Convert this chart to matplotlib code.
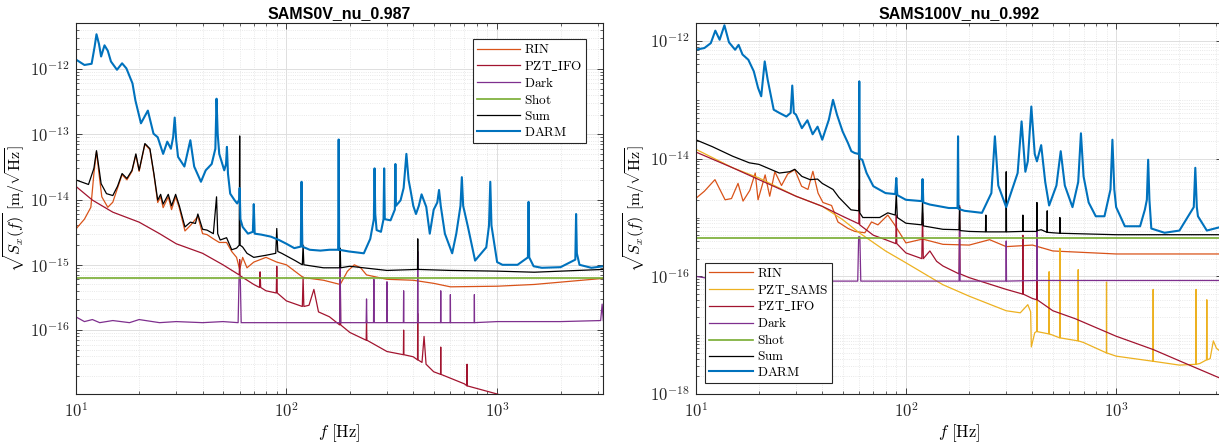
import numpy as np
import matplotlib
matplotlib.use('Agg')
import matplotlib.pyplot as plt
from matplotlib.ticker import LogLocator, FuncFormatter, NullFormatter

plt.rcParams['mathtext.fontset'] = 'cm'

#------------------------------------------#
# Spectra, (frequency [Hz], ASD [m/rtHz]) pairs
#------------------------------------------#
titles = ['SAMS0V_nu_0.987', 'SAMS100V_nu_0.992']

# ---- SAMS 0 V ----
L_RIN = [(10,3.5e-15),(11,5e-15),(11.8,7.6e-15),(12.2,2.5e-14),(12.55,5.4e-14),(12.9,2.5e-14),(13.3,1.1e-14),
         (14.2,7.6e-15),(15,9.1e-15),(15.8,1.5e-14),(16.6,2.4e-14),(17.5,2.0e-14),(18.5,2.7e-14),(19.3,4.8e-14),
         (20,2.7e-14),(21.3,7e-14),(22.5,5.8e-14),(23.5,2.4e-14),(24.5,9e-15),(25.3,1.1e-14),(26,7.5e-15),
         (27.5,1.1e-14),(28.5,7e-15),(29.8,1.1e-14),(31,7.5e-15),(33,3.3e-15),(35,4e-15),(38,5.5e-15),(40,3e-15),
         (42,2.9e-15),(45,2.5e-15),(48,2.2e-15),(52,2.2e-15),(55,1.6e-15),(58,1.3e-15),(60,0.85e-15),(62,1.3e-15),
         (65,0.9e-15),(70,1.1e-15),(80,1.3e-15),(90,1.1e-15),(100,1.0e-15),(120,0.64e-15),(150,0.58e-15),
         (180,0.5e-15),(195,0.8e-15),(210,1.0e-15),(225,0.9e-15),(240,0.7e-15),(300,0.6e-15),(400,0.58e-15),
         (500,0.52e-15),(600,0.46e-15),(1000,0.47e-15),(1500,0.5e-15),(3190,0.62e-15)]
L_PZT_IFO = [(10,1.6e-14),(12,9.8e-15),(15,6.4e-15),(20,4.5e-15),(25,3e-15),(30,2.1e-15),(40,1.5e-15),(50,1.0e-15),
             (59.7,0.7e-15),(60,1.2e-15),(60.3,0.68e-15),(70,0.5e-15),(74.5,0.45e-15),(75,7.8e-16),(75.5,0.45e-15),
             (80,0.4e-15),(89.5,0.37e-15),(90,9.5e-16),(90.5,0.37e-15),(100,0.28e-15),(119,0.23e-15),(120,6.5e-16),
             (121,0.23e-15),(128,0.24e-15),(135,4.2e-16),(142,1.9e-16),(160,1.6e-16),(179,1.2e-16),(180,8e-16),
             (181,1.2e-16),(200,9.2e-17),(239,7e-17),(240,1.4e-16),(241,7e-17),(300,4.7e-17),(359,4.2e-17),
             (360,1.0e-16),(361,4.2e-17),(400,3.9e-17),(419,3.5e-17),(420,1.8e-16),(421,3.5e-17),(440,3.2e-17),
             (450,8e-17),(460,3e-17),(500,2.3e-17),(539,2.1e-17),(540,5.5e-17),(541,2.1e-17),(700,1.5e-17),
             (719,1.4e-17),(720,3e-17),(721,1.4e-17),(1000,1.05e-17),(1300,8e-18)]
L_Dark = [(10,1.6e-16),(11,1.35e-16),(12,1.45e-16),(13,1.3e-16),(15,1.4e-16),(18,1.3e-16),(20,1.45e-16),(25,1.3e-16),
          (30,1.35e-16),(40,1.3e-16),(50,1.35e-16),(59,1.3e-16),(59.6,6.5e-16),(60.4,6.5e-16),(61,1.3e-16),
          (80,1.3e-16),(100,1.3e-16),(179,1.3e-16),(180,1.0e-15),(181,1.3e-16),(239,1.3e-16),(240,3e-16),
          (241,1.3e-16),(259,1.3e-16),(260,6e-16),(261,1.3e-16),(299,1.3e-16),(300,5.5e-16),(301,1.3e-16),
          (359,1.3e-16),(360,4e-16),(361,1.3e-16),(419,1.3e-16),(420,1.6e-15),(421,1.3e-16),(539,1.3e-16),
          (540,4e-16),(541,1.3e-16),(599,1.3e-16),(600,3.5e-16),(601,1.3e-16),(779,1.3e-16),(780,3.5e-16),
          (781,1.3e-16),(1000,1.35e-16),(2000,1.35e-16),(3100,1.4e-16),(3150,2.5e-16),(3190,1.4e-16)]
L_Shot = [(10,6.2e-16),(3190,6.2e-16)]
L_Sum = [(10,2.0e-14),(11.5,1.7e-14),(12.2,3e-14),(12.55,5.6e-14),(12.9,3e-14),(13.2,1.75e-14),(14,1.23e-14),
         (15,1.15e-14),(15.8,1.6e-14),(16.6,2.5e-14),(17.5,2.1e-14),(18.5,2.8e-14),(19.3,5e-14),(20,2.8e-14),
         (21.3,7.2e-14),(22.5,6e-14),(23.5,2.5e-14),(24.5,9.8e-15),(25.3,1.2e-14),(26,8.5e-15),(27.5,1.2e-14),
         (28.5,8e-15),(29.8,1.2e-14),(31,8.1e-15),(33,3.8e-15),(35,4.5e-15),(37,4.3e-15),(38,6e-15),(40,3.5e-15),
         (42,3.4e-15),(45,3e-15),(46.6,1.1e-14),(47.2,3e-15),(48.5,2.4e-15),(52,2.6e-15),(55,1.7e-15),(58,1.8e-15),
         (59.7,2e-15),(60,9.4e-14),(60.3,2e-15),(62,1.87e-15),(65,1.5e-15),(70,1.3e-15),(80,1.4e-15),(89,1.5e-15),
         (90,3.6e-15),(91,1.6e-15),(95,1.5e-15),(110,1.16e-15),(119,1.0e-15),(120,2e-15),(121,1e-15),(150,0.9e-15),
         (179,0.9e-15),(180,1.8e-15),(181,0.9e-15),(200,0.95e-15),(300,0.82e-15),(419,0.85e-15),(420,2.5e-15),
         (421,0.85e-15),(600,0.82e-15),(1000,0.8e-15),(1500,0.77e-15),(3190,0.85e-15)]
L_DARM = [(10,1.4e-12),(11,1.15e-12),(11.9,1.2e-12),(12.3,2.2e-12),(12.55,3.4e-12),(12.9,2.4e-12),(13.2,1.55e-12),
          (13.7,2.3e-12),(14.2,1.9e-12),(14.7,1.3e-12),(15.7,0.97e-12),(16.6,1.22e-12),(17.4,1.02e-12),(18.6,6.0e-13),
          (19.2,3.3e-13),(20.4,1.47e-13),(22.0,2.3e-13),(23.4,1.02e-13),(24.5,9e-14),(26.0,5.0e-14),(27.2,7.7e-14),
          (28.3,6.0e-14),(29.0,9e-14),(29.5,1.8e-13),(30.0,8e-14),(30.6,4.5e-14),(32.8,3.2e-14),(35.0,8.1e-14),
          (36.5,3.2e-14),(39.3,1.87e-14),(41.4,2.8e-14),(44.2,3.5e-14),(46.0,6e-14),(46.6,3.5e-13),(47.2,1e-13),
          (48.0,5e-14),(50.7,2.8e-14),(51.7,3.5e-14),(52.2,6.4e-14),(52.8,2.5e-14),(54.1,1.23e-14),(56.7,9.8e-15),
          (58.4,8.7e-15),(59.7,1e-14),(60.0,1.5e-14),(60.5,5e-15),(62.0,3.8e-15),(65.7,3.0e-15),(69.3,3.2e-15),
          (70.0,8.5e-15),(70.7,3.0e-15),(76,2.9e-15),(84.4,2.7e-15),(92.2,2.4e-15),(100,2.1e-15),(109,1.8e-15),
          (117,1.9e-15),(118,1.87e-14),(119,1.9e-15),(129,1.7e-15),(145,1.65e-15),(160,1.7e-15),(176,1.7e-15),
          (177,8.3e-14),(178,1.7e-15),(198,1.6e-15),(215,1.55e-15),(233,1.5e-15),(250,2.5e-15),(260,5e-15),
          (262,3.0e-14),(264,6e-15),(268,3.4e-15),(281,3.2e-15),(289,5e-15),(291,3.0e-14),(293,5e-15),(312,4.8e-15),
          (327,7e-15),(329,3.5e-14),(331,8e-15),(348,9.7e-15),(360,1.5e-14),(371,5e-14),(380,2e-14),(388,1.4e-14),
          (400,8e-15),(412,6e-15),(425,8e-15),(438,1.2e-14),(461,7.7e-15),(479,3e-15),(500,7e-15),(520,9e-15),
          (530,1.4e-14),(540,8e-15),(565,3e-15),(612,1.5e-15),(640,3e-15),(670,8e-15),(680,2.2e-14),(690,8e-15),
          (727,3.8e-15),(786,1.16e-15),(888,1.85e-15),(915,4e-15),(928,1.87e-14),(940,4e-15),(1000,1.1e-15),
          (1060,1.0e-15),(1250,1.0e-15),(1400,1.3e-15),(1410,9.2e-15),(1420,1.3e-15),(1490,0.95e-15),(1630,0.9e-15),
          (2000,0.92e-15),(2350,1.2e-15),(2370,6e-15),(2390,1.5e-15),(2460,1.0e-15),(2800,0.9e-15),(3190,0.95e-15)]

# ---- SAMS 100 V ----
R_RIN = [(10,2.1e-15),(11,2.8e-15),(12.35,4.4e-15),(13.8,2.0e-15),(14.8,2.1e-15),(15.9,3.8e-15),(16.8,1.9e-15),
         (18.1,2.9e-15),(19.2,5.7e-15),(19.8,2.0e-15),(21.4,5.3e-15),(22.5,2.3e-15),(23.8,6e-15),(25.6,3.5e-15),
         (27.4,5.5e-15),(29.6,6.5e-15),(31.9,3.4e-15),(34.2,3.0e-15),(36.1,6.1e-15),(38.2,2.6e-15),(40.3,1.8e-15),
         (44.3,1.6e-15),(47.5,8.4e-16),(53.1,6.5e-16),(57.2,5.8e-16),(63.8,5.5e-16),(68.6,8.4e-16),(73.6,7.5e-16),
         (82,1.1e-15),(88.4,7.5e-16),(100,0.37e-15),(120,0.43e-15),(150,0.35e-15),(200,0.34e-15),(250,0.42e-15),
         (300,0.32e-15),(400,0.34e-15),(500,0.27e-15),(1000,0.24e-15),(3190,0.24e-15)]
R_PZT_SAMS = [(10,1.45e-14),(15,7e-15),(20,4.7e-15),(30,2.3e-15),(40,1.55e-15),(50,0.92e-15),(60,0.55e-15),
              (80,0.27e-15),(100,0.17e-15),(150,7.2e-17),(200,4.6e-17),(300,2.6e-17),(350,2.4e-17),(380,3.3e-17),
              (392,2.5e-17),(395,6.3e-18),(410,1.1e-17),(419,1.16e-17),(420,1.7e-16),(421,1.15e-17),(479,1.05e-17),
              (480,1.2e-16),(481,1.05e-17),(500,1e-17),(539,9e-18),(540,3e-16),(541,9e-18),(659,8e-18),(660,1.3e-16),
              (661,8e-18),(700,7.5e-18),(899,5e-18),(900,8e-17),(901,5e-18),(1000,4.4e-18),(1499,3.6e-18),
              (1500,6e-17),(1501,3.6e-18),(2000,3.1e-18),(2399,3.2e-18),(2400,6e-17),(2401,3.2e-18),(2500,3.3e-18),
              (2690,3.8e-18),(2700,4e-17),(2710,3.8e-18),(2800,4e-18),(2900,8e-18),(3000,6e-18),(3190,5e-18)]
R_PZT_IFO = [(10,1.3e-14),(15,7e-15),(20,4.4e-15),(30,2.3e-15),(40,1.55e-15),(50,1.05e-15),(59.7,0.78e-15),
             (60,3e-15),(60.3,0.75e-15),(70,0.5e-15),(80,0.42e-15),(89.5,0.36e-15),(90,1.1e-15),(90.5,0.36e-15),
             (100,0.25e-15),(119,0.2e-15),(120,1.2e-15),(121,0.2e-15),(130,0.27e-15),(140,0.18e-15),(150,0.15e-15),
             (179,0.11e-15),(180,1.6e-15),(181,0.11e-15),(200,9.5e-17),(300,6e-17),(359,5e-17),(360,5e-16),
             (361,5e-17),(400,4.2e-17),(419,4e-17),(420,7e-16),(421,4e-17),(500,2.6e-17),(640,1.9e-17),
             (1000,9.6e-18),(1500,5.7e-18),(2100,3.4e-18),(3190,1.8e-18)]
R_Dark = [(10,1.0e-16),(12,9e-17),(15,8.5e-17),(20,8.5e-17),(30,8.3e-17),(59,8.3e-17),(59.6,4.7e-16),(60.4,4.7e-16),
          (61,8.3e-17),(100,8.3e-17),(179,8.3e-17),(180,6e-16),(181,8.3e-17),(299,8.3e-17),(300,4e-16),(301,8.3e-17),
          (419,8.5e-17),(420,6e-16),(421,8.5e-17),(1000,8.5e-17),(3190,8.5e-17)]
R_Shot = [(10,4.4e-16),(3190,4.4e-16)]
R_Sum = [(10,2.1e-14),(12,1.6e-14),(15,1.1e-14),(18,8.5e-15),(20,8e-15),(25,5.7e-15),(28,6e-15),(29.6,6.6e-15),
         (32,5e-15),(35,4.4e-15),(38,4.5e-15),(40,3.8e-15),(45,3e-15),(48,2.2e-15),(54.8,1.35e-15),(59.7,1.3e-15),
         (60,2.06e-13),(60.3,1.2e-15),(62.4,1.0e-15),(75,1.0e-15),(82,1.2e-15),(89,1.1e-15),
         (90,2.6e-15),(91,1.0e-15),(100,0.8e-15),(119,0.75e-15),(120,2e-15),(121,0.72e-15),(150,0.63e-15),
         (179,0.62e-15),(180,1.5e-15),(181,0.6e-15),(200,0.58e-15),(239,0.57e-15),(240,1.1e-15),(241,0.57e-15),
         (299,0.57e-15),(300,6e-15),(301,0.57e-15),(359,0.58e-15),(360,1.1e-15),(361,0.58e-15),(419,0.58e-15),
         (420,1.8e-15),(421,0.6e-15),(440,0.62e-15),(469,0.56e-15),(470,1.3e-15),(471,0.56e-15),(500,0.55e-15),
         (539,0.54e-15),(540,1.0e-15),(541,0.54e-15),(1000,0.51e-15),(3190,0.51e-15)]
R_DARM = [(10,7.1e-13),(11,7.6e-13),(11.8,9.2e-13),(12.4,1.5e-12),(13.0,1.05e-12),(13.7,1.85e-12),(14.4,9.5e-13),
          (15.4,7.1e-13),(16.0,8.6e-13),(16.7,5.9e-13),(17.8,4.8e-13),(18.9,3.05e-13),(19.8,1.6e-13),(20.5,1.15e-13),
          (21.3,4.5e-13),(22.0,2.2e-13),(23.5,6.8e-14),(25,6e-14),(27,5.2e-14),(28.3,6e-14),(28.8,1.75e-13),
          (29.3,6e-14),(30,5.6e-14),(32,3.3e-14),(34,4.5e-14),(36,2.6e-14),(38,3.5e-14),(40,2.1e-14),(43,4.6e-14),
          (45,1.0e-13),(47,5.6e-14),(50,2.9e-14),(53,1.85e-14),(55,1.34e-14),(57,1.25e-14),(59.7,1.2e-14),
          (60,2.06e-13),(60.3,1e-14),(62,9.6e-15),(65,5.7e-15),(70,3.4e-15),(80,2.6e-15),(89,2.5e-15),(90,4.7e-15),
          (91,2.4e-15),(100,2.0e-15),(119,1.9e-15),(120,4.5e-15),(121,1.8e-15),(130,1.66e-15),(160,1.45e-15),
          (176,1.45e-15),(177,2.4e-14),(178,1.4e-15),(190,1.3e-15),(230,1.2e-15),(255,2.6e-15),(265,2.4e-14),
          (275,3.5e-15),(300,1.5e-15),(340,5.7e-15),(355,4.3e-14),(370,6e-15),(380,9e-15),(395,7.7e-14),
          (410,1.2e-14),(420,9e-15),(440,1.7e-14),(460,4e-15),(480,1.6e-15),(520,3.5e-15),(545,1.34e-14),
          (570,3.5e-15),(620,1.5e-15),(660,4e-15),(680,2.7e-14),(700,5e-15),(740,1.8e-15),(800,1.05e-15),
          (880,1.05e-15),(940,3e-15),(960,2.1e-14),(980,3e-15),(1000,1.5e-15),(1100,0.71e-15),(1300,0.71e-15),
          (1370,1.36e-15),(1400,2e-15),(1420,9.6e-15),(1440,2e-15),(1470,0.65e-15),(1700,0.55e-15),(2000,0.6e-15),
          (2340,1.5e-15),(2380,7e-15),(2420,1.5e-15),(2450,1.05e-15),(2700,0.6e-15),(3190,0.7e-15)]

# MATLAB default colours
c_rin = '#D95319'
c_sams = '#EDB120'
c_ifo = '#A2142F'
c_dark = '#7E2F8E'
c_shot = '#77AC30'
c_sum = 'k'
c_darm = '#0072BD'

left_traces = [(L_RIN, c_rin, r'$\mathrm{RIN}$', 0.9),
               (L_PZT_IFO, c_ifo, r'$\mathrm{PZT\_IFO}$', 0.9),
               (L_Dark, c_dark, r'$\mathrm{Dark}$', 0.9),
               (L_Shot, c_shot, r'$\mathrm{Shot}$', 1.2),
               (L_Sum, c_sum, r'$\mathrm{Sum}$', 0.9),
               (L_DARM, c_darm, r'$\mathrm{DARM}$', 1.5)]
right_traces = [(R_RIN, c_rin, r'$\mathrm{RIN}$', 0.9),
                (R_PZT_SAMS, c_sams, r'$\mathrm{PZT\_SAMS}$', 0.9),
                (R_PZT_IFO, c_ifo, r'$\mathrm{PZT\_IFO}$', 0.9),
                (R_Dark, c_dark, r'$\mathrm{Dark}$', 0.9),
                (R_Shot, c_shot, r'$\mathrm{Shot}$', 1.2),
                (R_Sum, c_sum, r'$\mathrm{Sum}$', 0.9),
                (R_DARM, c_darm, r'$\mathrm{DARM}$', 1.5)]

#------------------------------------------#
def decade_label(v, pos):
    return r'$10^{%d}$' % int(round(np.log10(v)))

def style_axes(ax, title, ymajor):
    ax.set_xscale('log')
    ax.set_yscale('log')
    ax.xaxis.set_major_locator(LogLocator(base=10))
    ax.xaxis.set_minor_locator(LogLocator(base=10, subs=np.arange(2, 10)))
    ax.yaxis.set_major_locator(plt.FixedLocator(ymajor))
    ax.yaxis.set_minor_locator(LogLocator(base=10, subs=np.arange(1, 10), numticks=30))
    ax.xaxis.set_major_formatter(FuncFormatter(decade_label))
    ax.yaxis.set_major_formatter(FuncFormatter(decade_label))
    ax.xaxis.set_minor_formatter(NullFormatter())
    ax.yaxis.set_minor_formatter(NullFormatter())
    ax.tick_params(which='both', direction='in', top=True, right=True, labelsize=12, colors='#262626')
    ax.tick_params(which='major', length=4, width=0.6)
    ax.tick_params(which='minor', length=2.2, width=0.5)
    ax.tick_params(axis='x', which='major', pad=6)
    ax.tick_params(axis='y', which='major', pad=4.5)
    ax.grid(True, which='major', color='#dedede', lw=0.7)
    ax.grid(True, which='minor', color='#e2e2e2', lw=0.6, ls=':')
    ax.set_axisbelow(True)
    for s in ax.spines.values():
        s.set_linewidth(0.8)
        s.set_color('#262626')
    ax.set_title(title, fontsize=11.5, fontweight='bold', family='Liberation Sans', pad=4)
    ax.set_xlabel(r'$f\ [\mathrm{Hz}]$', fontsize=12)
    ax.set_ylabel(r'$\sqrt{S_x(f)}\ [\mathrm{m}/\sqrt{\mathrm{Hz}}]$', fontsize=11.5)

def draw(ax, traces):
    for pts, col, lab, lw in traces:
        arr = np.array(pts)
        ax.plot(arr[:, 0], arr[:, 1], color=col, lw=lw, label=lab)

def add_legend(ax, loc, anchor):
    leg = ax.legend(loc=loc, bbox_to_anchor=anchor, borderaxespad=0, fontsize=9.5,
                    handlelength=3.3, labelspacing=0.22, borderpad=0.3, handletextpad=0.3,
                    fancybox=False, edgecolor='#262626', framealpha=1)
    leg.get_frame().set_linewidth(0.8)

#------------------------------------------#
fig = plt.figure(figsize=(12.19, 4.43), dpi=100)

# SAMS 0 V
ax1 = fig.add_axes([0.0621, 0.1106, 0.4328, 0.8368])
draw(ax1, left_traces)
style_axes(ax1, titles[0], [1e-16, 1e-15, 1e-14, 1e-13, 1e-12])
ax1.set_xlim(10, 3190)
ax1.set_ylim(1.05e-17, 5e-12)
ax1.xaxis.set_label_coords(0.5, -0.075)
ax1.yaxis.set_label_coords(-0.09, 0.5)
add_legend(ax1, 'upper right', (0.968, 0.957))

# SAMS 100 V
ax2 = fig.add_axes([0.5707, 0.1106, 0.4318, 0.8368])
draw(ax2, right_traces)
style_axes(ax2, titles[1], [1e-18, 1e-16, 1e-14, 1e-12])
ax2.set_xlim(10, 3190)
ax2.set_ylim(1e-18, 2e-12)
ax2.xaxis.set_label_coords(0.5, -0.075)
ax2.yaxis.set_label_coords(-0.091, 0.5)
add_legend(ax2, 'lower left', (0.0184, 0.0297))

fig.savefig('out.png', dpi=100)
